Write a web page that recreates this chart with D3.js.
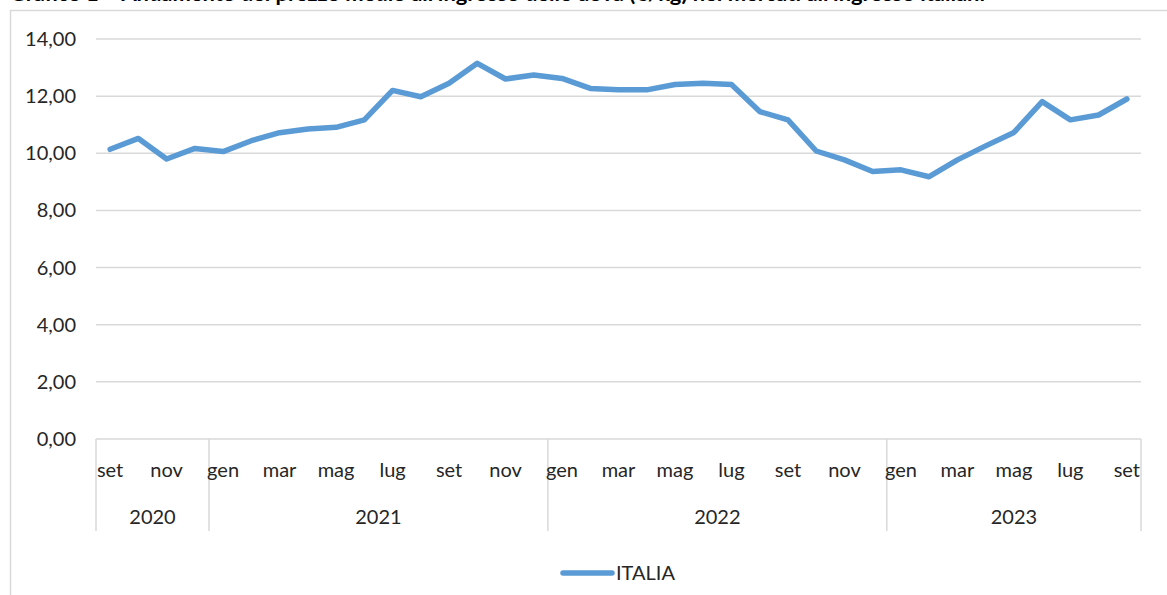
<!DOCTYPE html>
<html>
<head>
<meta charset="utf-8">
<script src="https://cdn.jsdelivr.net/npm/d3@7"></script>
<style>
  body { margin: 0; background: #fff; }
  svg { font-family: Lato, "Open Sans", sans-serif; }
</style>
</head>
<body>
<svg id="chart" width="1167" height="595"></svg>
<script>
var months = ["set","ott","nov","dic",
  "gen","feb","mar","apr","mag","giu","lug","ago","set","ott","nov","dic",
  "gen","feb","mar","apr","mag","giu","lug","ago","set","ott","nov","dic",
  "gen","feb","mar","apr","mag","giu","lug","ago","set"];
var years = ["2020","2021","2022","2023"];
var yearCounts = [4, 12, 12, 9];
var italia = [10.14, 10.52, 9.80, 10.17,
  10.06, 10.44, 10.72, 10.85, 10.91, 11.17, 12.20, 11.98, 12.45, 13.15, 12.60, 12.74,
  12.62, 12.27, 12.22, 12.22, 12.41, 12.45, 12.41, 11.46, 11.17, 10.08, 9.77, 9.36,
  9.42, 9.18, 9.77, 10.26, 10.73, 11.81, 11.17, 11.34, 11.90];
var yTicks = [0, 2, 4, 6, 8, 10, 12, 14];

var svg = d3.select("#chart");
var plotL = 96, plotR = 1141, plotT = 39, plotB = 439;

// frame of the chart (partly outside the crop)
svg.append("rect")
  .attr("x", 10.5).attr("y", 10.5)
  .attr("width", 1200).attr("height", 700)
  .attr("fill", "none").attr("stroke", "#d9d9d9").attr("stroke-width", 1.5);

// title cut at top
svg.append("text")
  .attr("x", 10).attr("y", 1)
  .attr("font-size", 21).attr("font-weight", "bold").attr("fill", "#000")
  .attr("textLength", 975).attr("lengthAdjust", "spacingAndGlyphs")
  .text("Grafico 1 – Andamento del prezzo medio all'ingrosso delle uova (€/kg) nei mercati all'ingrosso italiani");

var idx = d3.range(italia.length);
var x = d3.scaleBand().domain(idx).range([plotL, plotR]);
var y = d3.scaleLinear().domain([0, 14]).range([plotB, plotT]);

// gridlines
svg.append("g").selectAll("line")
  .data(yTicks.slice(1))
  .enter().append("line")
  .attr("x1", plotL).attr("x2", plotR)
  .attr("y1", function(d) { return y(d); })
  .attr("y2", function(d) { return y(d); })
  .attr("stroke", "#d9d9d9").attr("stroke-width", 1.5);

// y labels
svg.append("g").selectAll("text")
  .data(yTicks)
  .enter().append("text")
  .attr("x", 76).attr("y", function(d) { return y(d) + 7; })
  .attr("text-anchor", "end")
  .attr("font-size", 20).attr("fill", "#262626")
  .text(function(d) { return d3.format(".2f")(d).replace(".", ","); });

// x axis line
svg.append("line")
  .attr("x1", plotL).attr("x2", plotR)
  .attr("y1", plotB).attr("y2", plotB)
  .attr("stroke", "#d9d9d9").attr("stroke-width", 1.5);

// year separators
var cum = [0];
yearCounts.forEach(function(c, i) { cum.push(cum[i] + c); });
svg.append("g").selectAll("line")
  .data(cum)
  .enter().append("line")
  .attr("x1", function(d) { return d < italia.length ? x(d) : plotR; })
  .attr("x2", function(d) { return d < italia.length ? x(d) : plotR; })
  .attr("y1", plotB).attr("y2", 531)
  .attr("stroke", "#d9d9d9").attr("stroke-width", 1.5);

// month labels (every other month)
svg.append("g").selectAll("text")
  .data(idx.filter(function(i) { return i % 2 === 0; }))
  .enter().append("text")
  .attr("x", function(i) { return x(i) + x.bandwidth() / 2; })
  .attr("y", 477)
  .attr("text-anchor", "middle")
  .attr("font-size", 20).attr("fill", "#262626")
  .text(function(i) { return months[i]; });

// year labels
svg.append("g").selectAll("text")
  .data(years)
  .enter().append("text")
  .attr("x", function(d, i) {
    var a = x(cum[i]);
    var b = cum[i + 1] < italia.length ? x(cum[i + 1]) : plotR;
    return (a + b) / 2;
  })
  .attr("y", 524)
  .attr("text-anchor", "middle")
  .attr("font-size", 20).attr("fill", "#262626")
  .text(function(d) { return d; });

// line
var line = d3.line()
  .x(function(d, i) { return x(i) + x.bandwidth() / 2; })
  .y(function(d) { return y(d); });

svg.append("path")
  .datum(italia)
  .attr("d", line)
  .attr("fill", "none")
  .attr("stroke", "#5b9bd5")
  .attr("stroke-width", 5.5)
  .attr("stroke-linejoin", "round")
  .attr("stroke-linecap", "round");

// legend
svg.append("line")
  .attr("x1", 563).attr("x2", 612)
  .attr("y1", 573).attr("y2", 573)
  .attr("stroke", "#5b9bd5").attr("stroke-width", 5.5)
  .attr("stroke-linecap", "round");
svg.append("text")
  .attr("x", 616).attr("y", 580)
  .attr("font-size", 20).attr("fill", "#262626")
  .text("ITALIA");
</script>
</body>
</html>
